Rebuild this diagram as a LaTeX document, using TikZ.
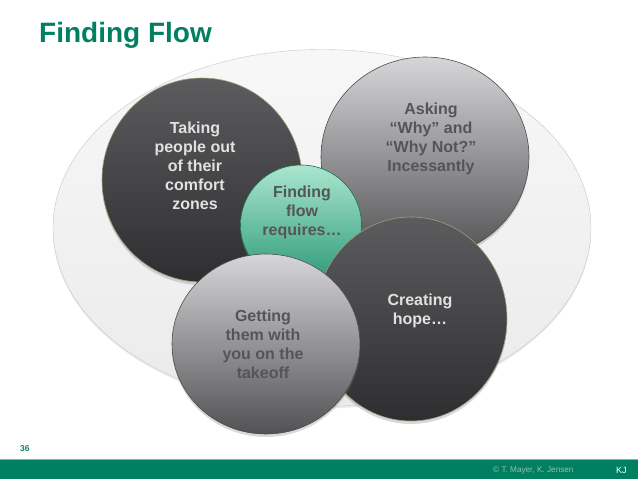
\documentclass[tikz,border=0pt]{standalone}
\usepackage{fontspec}
\setmainfont{Liberation Sans}
\usepackage{xcolor}
\usepackage{tikz}
\usetikzlibrary{shapes.geometric,shadows}
\definecolor{kjgreen}{RGB}{0,128,96}
\definecolor{pagenum}{RGB}{31,122,106}
\definecolor{copytext}{RGB}{150,190,176}
\definecolor{darktop}{RGB}{92,92,94}
\definecolor{darkbot}{RGB}{46,46,48}
\definecolor{darkrim}{RGB}{165,156,122}
\definecolor{greytop}{RGB}{214,214,216}
\definecolor{greybot}{RGB}{82,82,84}
\definecolor{flowtop}{RGB}{170,230,207}
\definecolor{flowbot}{RGB}{42,152,118}
\definecolor{lighttext}{RGB}{225,225,225}
\definecolor{greytext}{RGB}{85,85,88}

\tikzset{
    disc/.style={ellipse, inner sep=0pt, drop shadow={opacity=0.3, shadow xshift=0pt, shadow yshift=-3pt}},
    darkdisc/.style={disc, draw=darkrim, line width=0.6pt, top color=darktop, bottom color=darkbot},
    greydisc/.style={disc, draw=black!70, line width=0.6pt, top color=greytop, bottom color=greybot},
    flowdisc/.style={disc, draw=flowbot!70!black, line width=0.6pt, top color=flowtop, bottom color=flowbot},
    disctext/.style={anchor=north, align=center, inner sep=0pt, font=\bfseries\fontsize{16}{19}\selectfont},
}

\begin{document}
\begin{tikzpicture}[x=1pt, y=-1pt]
    \useasboundingbox (0,0) rectangle (638,479);

    \node[anchor=base west, inner sep=0pt, text=kjgreen, font=\bfseries\fontsize{28}{34}\selectfont] (title) at (39,42) {Finding Flow};

    % backdrop
    \node[ellipse, inner sep=0pt, minimum width=538pt, minimum height=357pt, draw=gray!45, top color=gray!6, bottom color=gray!16,
          drop shadow={opacity=0.15, shadow xshift=0pt, shadow yshift=-2pt}] (field) at (322,228) {};

    % discs, back to front
    \node[darkdisc, minimum width=200pt, minimum height=204pt] (comfort) at (202,180) {};
    \node[greydisc, minimum width=208pt, minimum height=200pt] (asking) at (425,157) {};
    \node[flowdisc, minimum width=121pt, minimum height=120pt] (flow) at (301,225) {};
    \node[darkdisc, minimum width=192pt, minimum height=204pt] (hope) at (411,319) {};
    \node[greydisc, minimum width=188pt, minimum height=180pt] (takeoff) at (266,344) {};

    \node[disctext, text=lighttext] (comfortlbl) at (195,121.5) {Taking\\people out\\of their\\comfort\\zones};
    \node[disctext, text=greytext] (askinglbl) at (431,102.5) {Asking\\“Why” and\\“Why Not?”\\Incessantly};
    \node[disctext, text=greytext] (flowlbl) at (302,185.5) {Finding\\flow\\requires…};
    \node[disctext, text=lighttext] (hopelbl) at (420,293.5) {Creating\\hope…};
    \node[disctext, text=greytext] (takeofflbl) at (263,309.5) {Getting\\them with\\you on the\\takeoff};

    % footer
    \node[anchor=base west, inner sep=0pt, text=pagenum, font=\bfseries\fontsize{8.5}{10}\selectfont] (pageno) at (20,451) {36};
    \fill[kjgreen] (0,459) rectangle (638,479);
    \draw[kjgreen!55!white, line width=0.8pt] (0,459.4) -- (638,459.4);
    \node[anchor=base west, inner sep=0pt, text=copytext, font=\fontsize{8.2}{9}\selectfont] (copy) at (493,472) {© T. Mayer, K. Jensen};
    \node[anchor=base west, inner sep=0pt, text=white, font=\fontsize{9}{10}\selectfont] (initials) at (616,473) {KJ};
\end{tikzpicture}
\end{document}
